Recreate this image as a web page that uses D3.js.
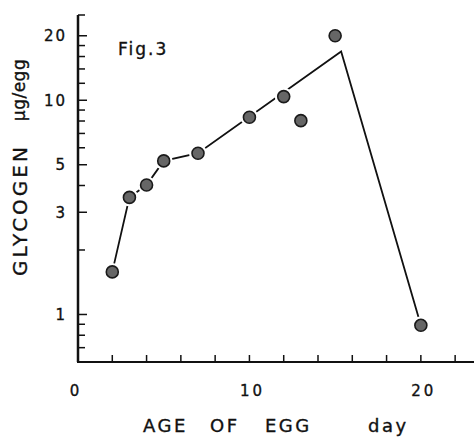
<!DOCTYPE html>
<html>
<head>
<meta charset="utf-8">
<script src="https://cdn.jsdelivr.net/npm/d3@7"></script>
<style>
  body { margin: 0; background: #fff; }
  svg text { font-family: "DejaVu Sans", sans-serif; fill: #111; stroke: #111; stroke-width: 0.35px; }
</style>
</head>
<body>
<svg id="chart" width="474" height="437"></svg>
<script>
// measured points
const days = [2, 3, 4, 5, 7, 10, 12, 13, 15, 20];
const glycogen = [1.58, 3.52, 4.02, 5.21, 5.66, 8.33, 10.4, 8.03, 20, 0.89];

// hand drawn trend line
const lineDays = [2, 3, 4, 5, 7, 15.35, 20];
const lineGlycogen = [1.58, 3.52, 4.02, 5.21, 5.66, 16.9, 0.89];

const xTicks = [2, 4, 6, 8, 10, 12, 14, 16, 18, 20, 22];
const xLabels = [0, 10, 20];
const yLabels = [1, 3, 5, 10, 20];
const yMinor = [0.7, 0.8, 0.9, 2, 4, 6, 7, 8, 9, 12, 14, 16, 18, 25];

const svg = d3.select('#chart');
const x = d3.scaleLinear().domain([0, 23.1]).range([78, 474]);
const y = d3.scaleLog().domain([0.6, 25]).range([362, 15]);

// axes lines
svg.append('line')
    .attr('x1', x(0)).attr('x2', x(0))
    .attr('y1', y(25)).attr('y2', y(0.6))
    .attr('stroke', '#111').attr('stroke-width', 2.5);
svg.append('line')
    .attr('x1', x(0) - 1).attr('x2', 474)
    .attr('y1', y(0.6)).attr('y2', y(0.6))
    .attr('stroke', '#111').attr('stroke-width', 2);

// y ticks point inward
svg.selectAll('.ytick')
    .data(yLabels.concat(yMinor))
    .enter().append('line')
    .attr('x1', x(0))
    .attr('x2', d => x(0) + (yLabels.includes(d) ? 9 : 7))
    .attr('y1', d => y(d)).attr('y2', d => y(d))
    .attr('stroke', '#111').attr('stroke-width', 1.5);

svg.selectAll('.ylabel')
    .data(yLabels)
    .enter().append('text')
    .attr('x', 67)
    .attr('y', d => y(d))
    .attr('dy', '0.36em')
    .attr('text-anchor', 'end')
    .style('font-size', '15px')
    .style('letter-spacing', '2px')
    .text(d => d);

// x ticks point upward
svg.selectAll('.xtick')
    .data(xTicks)
    .enter().append('line')
    .attr('x1', d => x(d)).attr('x2', d => x(d))
    .attr('y1', y(0.6)).attr('y2', y(0.6) - 7)
    .attr('stroke', '#111').attr('stroke-width', 1.5);

svg.selectAll('.xlabel')
    .data(xLabels)
    .enter().append('text')
    .attr('x', d => x(d) + (d === 0 ? -2 : 3))
    .attr('y', 396)
    .attr('text-anchor', 'middle')
    .style('font-size', '15px')
    .style('letter-spacing', '3px')
    .text(d => d);

// trend line
const line = d3.line()
    .x(d => x(d[0]))
    .y(d => y(d[1]));

svg.append('path')
    .datum(d3.zip(lineDays, lineGlycogen))
    .attr('fill', 'none')
    .attr('stroke', '#111')
    .attr('stroke-width', 1.8)
    .attr('d', line);

const pts = d3.zip(days, glycogen);

// white halo gives the broken line look near dots
svg.selectAll('.halo')
    .data(pts)
    .enter().append('circle')
    .attr('cx', d => x(d[0]))
    .attr('cy', d => y(d[1]))
    .attr('r', 9)
    .attr('fill', '#fff');

svg.selectAll('.dot')
    .data(pts)
    .enter().append('circle')
    .attr('cx', d => x(d[0]))
    .attr('cy', d => y(d[1]))
    .attr('r', 6)
    .attr('fill', '#666')
    .attr('stroke', '#1a1a1a')
    .attr('stroke-width', 1.6);

// titles
svg.append('text')
    .attr('x', 118).attr('y', 55)
    .style('font-size', '17px')
    .style('letter-spacing', '2px')
    .text('Fig.3');

svg.append('text')
    .attr('transform', 'translate(27,210) rotate(-90)')
    .attr('text-anchor', 'middle')
    .style('font-size', '20px')
    .style('letter-spacing', '3px')
    .text('GLYCOGEN');

svg.append('text')
    .attr('transform', 'translate(25,90) rotate(-90)')
    .attr('text-anchor', 'middle')
    .style('font-size', '17px')
    .style('letter-spacing', '0.5px')
    .text('µg/egg');

const xWords = [['AGE', 143], ['OF', 210], ['EGG', 265], ['day', 368]];
svg.selectAll('.xword')
    .data(xWords)
    .enter().append('text')
    .attr('x', d => d[1])
    .attr('y', 432)
    .style('font-size', '18px')
    .style('letter-spacing', '2.5px')
    .text(d => d[0]);
</script>
</body>
</html>
